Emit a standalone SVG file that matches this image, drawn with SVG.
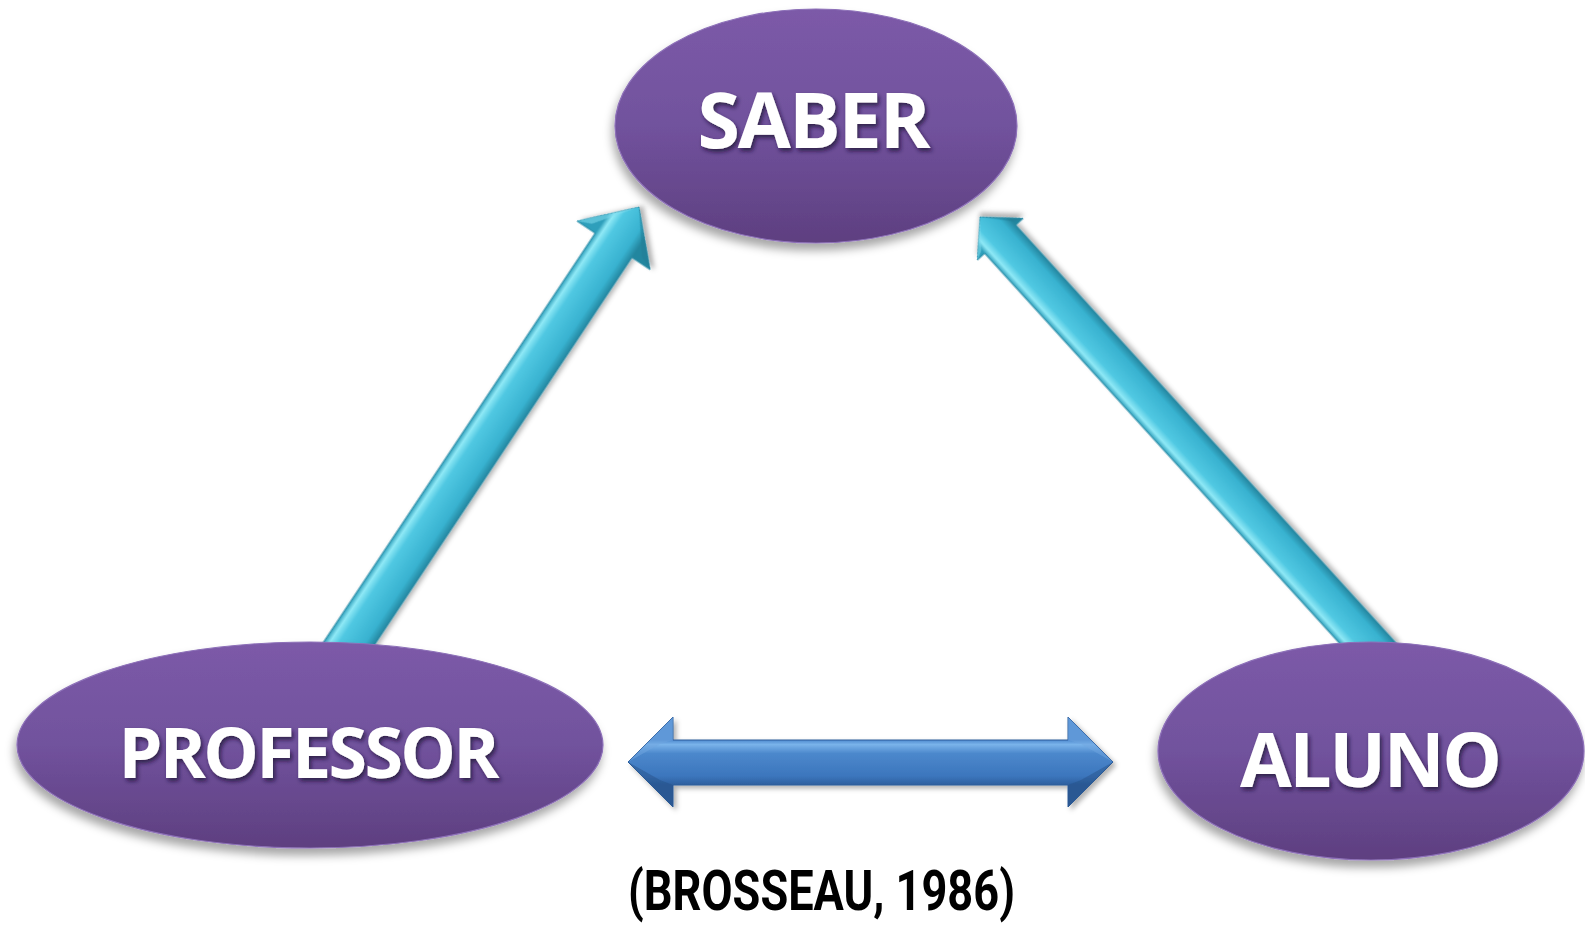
<svg xmlns="http://www.w3.org/2000/svg" width="1585" height="925" viewBox="0 0 1585 925">
  <style>
    .node-fill { fill: url(#nodeGrad); stroke: #8d70b8; stroke-width: 1.2; filter: url(#nodeShadow); }
    .label { font-family: "Open Sans", "Lato", "Liberation Sans", sans-serif; font-weight: bold; fill: #ffffff; text-anchor: middle; filter: url(#textShadow); }
    .cite { font-family: "Roboto", "Liberation Sans", sans-serif; font-weight: bold; fill: #000000; }
    .cyan-edge { stroke: #2a8ba6; stroke-width: 1; stroke-linejoin: miter; }
  </style>
  <defs>
    <linearGradient id="nodeGrad" x1="0" y1="0" x2="0" y2="1">
      <stop offset="0" stop-color="#7c5aa8"/>
      <stop offset="0.5" stop-color="#71529d"/>
      <stop offset="1" stop-color="#5e3f80"/>
    </linearGradient>
    <!-- cross-shaft shading for the cyan arrows (local y runs across the shaft) -->
    <linearGradient id="cyanShaftL" gradientUnits="userSpaceOnUse" x1="0" y1="-22" x2="0" y2="22">
      <stop offset="0" stop-color="#2f9fbb"/>
      <stop offset="0.12" stop-color="#8fe9f6"/>
      <stop offset="0.3" stop-color="#50c8e2"/>
      <stop offset="0.8" stop-color="#38b2d0"/>
      <stop offset="1" stop-color="#24869f"/>
    </linearGradient>
    <linearGradient id="cyanShaftR" gradientUnits="userSpaceOnUse" x1="0" y1="-21" x2="0" y2="21">
      <stop offset="0" stop-color="#2f9fbb"/>
      <stop offset="0.12" stop-color="#8fe9f6"/>
      <stop offset="0.3" stop-color="#50c8e2"/>
      <stop offset="0.8" stop-color="#38b2d0"/>
      <stop offset="1" stop-color="#24869f"/>
    </linearGradient>
    <linearGradient id="blueShaft" gradientUnits="userSpaceOnUse" x1="0" y1="740" x2="0" y2="785">
      <stop offset="0" stop-color="#4f8bd0"/>
      <stop offset="0.1" stop-color="#79b3ea"/>
      <stop offset="0.3" stop-color="#4c88cc"/>
      <stop offset="0.8" stop-color="#3c76bd"/>
      <stop offset="1" stop-color="#2d5f9e"/>
    </linearGradient>
    <filter id="nodeShadow" x="-10%" y="-10%" width="125%" height="135%">
      <feDropShadow dx="-2" dy="7" stdDeviation="5" flood-color="#000" flood-opacity="0.35"/>
    </filter>
    <filter id="arrowShadow" x="-10%" y="-10%" width="125%" height="125%">
      <feDropShadow dx="3" dy="3" stdDeviation="2.5" flood-color="#000" flood-opacity="0.3"/>
    </filter>
    <filter id="textShadow" x="-10%" y="-20%" width="120%" height="150%">
      <feDropShadow dx="2" dy="3" stdDeviation="2" flood-color="#1e0f33" flood-opacity="0.75"/>
    </filter>
  </defs>

  <rect width="1585" height="925" fill="#ffffff"/>

  <g id="connectors">
    <!-- PROFESSOR -> SABER -->
    <g transform="translate(639 207) rotate(-56.4)" filter="url(#arrowShadow)">
      <path class="cyan-edge" fill="url(#cyanShaftL)" d="M0,0 L-46,-44 L-46,-22 L-560,-22 L-560,22 L-46,22 L-46,44 Z"/>
      <path fill="#7fdcef" opacity="0.55" d="M0,0 L-46,-44 L-40,-30 Z"/>
      <path fill="#1f7d95" opacity="0.45" d="M0,0 L-46,44 L-40,30 Z"/>
    </g>
    <!-- ALUNO -> SABER -->
    <g transform="translate(980 217) rotate(-132.3)" filter="url(#arrowShadow)">
      <path class="cyan-edge" fill="url(#cyanShaftR)" d="M0,0 L-30,-31 L-30,-21 L-600,-21 L-600,21 L-30,21 L-30,31 Z"/>
      <path fill="#7fdcef" opacity="0.55" d="M0,0 L-30,-31 L-26,-22 Z"/>
      <path fill="#1f7d95" opacity="0.45" d="M0,0 L-30,31 L-26,22 Z"/>
    </g>
    <!-- PROFESSOR <-> ALUNO -->
    <g filter="url(#arrowShadow)">
      <path fill="url(#blueShaft)" stroke="#2c5d9b" stroke-width="1" d="M628,762 L673,717 L673,740 L1068,740 L1068,717 L1113,762 L1068,807 L1068,785 L673,785 L673,807 Z"/>
      <path fill="#6fa6e0" opacity="0.5" d="M628,762 L673,717 L673,740 L660,744 Z"/>
      <path fill="#6fa6e0" opacity="0.5" d="M1113,762 L1068,717 L1068,740 L1081,744 Z"/>
      <path fill="#264f86" opacity="0.45" d="M628,762 L673,807 L673,785 L660,780 Z"/>
      <path fill="#264f86" opacity="0.45" d="M1113,762 L1068,807 L1068,785 L1081,780 Z"/>
    </g>
  </g>

  <g id="node-saber">
    <ellipse class="node-fill" cx="816" cy="126" rx="201" ry="117"/>
    <text class="label" x="814" y="148" font-size="77" textLength="233">SABER</text>
  </g>

  <g id="node-professor">
    <ellipse class="node-fill" cx="310" cy="745" rx="293" ry="103"/>
    <text class="label" x="309" y="778" font-size="70" textLength="381">PROFESSOR</text>
  </g>

  <g id="node-aluno">
    <ellipse class="node-fill" cx="1371" cy="751" rx="213" ry="109"/>
    <text class="label" x="1371" y="787" font-size="75" textLength="262">ALUNO</text>
  </g>

  <g id="citation">
    <text class="cite" x="628" y="910" font-size="55" textLength="387" lengthAdjust="spacingAndGlyphs">(BROSSEAU, 1986)</text>
  </g>
</svg>
